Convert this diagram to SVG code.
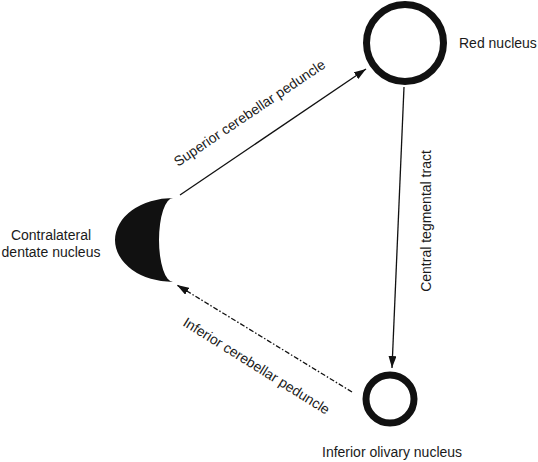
<svg xmlns="http://www.w3.org/2000/svg" width="538" height="462" viewBox="0 0 538 462">
  <style>
    text { font-family: "Liberation Sans", Arial, Helvetica, sans-serif; font-size: 14px; fill: #1a1a1a; }
    .ring { fill: none; stroke: #111; }
    .conn { fill: none; stroke: #111; stroke-width: 1.3; }
    .dash { stroke-dasharray: 5 2 1.5 2; }
  </style>
  <defs>
    <marker id="arrow" viewBox="0 0 12 8" refX="12" refY="4" markerWidth="12" markerHeight="8" markerUnits="userSpaceOnUse" orient="auto">
      <path d="M0,0 L12,4 L0,8 Z" fill="#111"/>
    </marker>
  </defs>
  <rect width="538" height="462" fill="#ffffff"/>

  <g id="red-nucleus">
    <circle class="ring" cx="405" cy="43" r="38.5" stroke-width="7"/>
    <text x="459" y="48">Red nucleus</text>
  </g>

  <g id="inferior-olivary-nucleus">
    <circle class="ring" cx="390" cy="399" r="24" stroke-width="7"/>
    <text x="322" y="457">Inferior olivary nucleus</text>
  </g>

  <g id="dentate-nucleus">
    <path d="M173,198 A58,42 0 0 0 173,282 A14,42 0 0 1 173,198 Z" fill="#111"/>
    <text x="51" y="240" text-anchor="middle">Contralateral</text>
    <text x="51" y="257" text-anchor="middle">dentate nucleus</text>
  </g>

  <g id="connectors">
    <line class="conn" x1="180" y1="195" x2="366" y2="69" marker-end="url(#arrow)"/>
    <line class="conn" x1="404" y1="87" x2="392" y2="368" marker-end="url(#arrow)"/>
    <line class="conn dash" x1="352" y1="392" x2="177" y2="285" marker-end="url(#arrow)"/>
    <text transform="translate(178,167) rotate(-34)">Superior cerebellar peduncle</text>
    <text transform="translate(182,325) rotate(32)">Inferior cerebellar peduncle</text>
    <text transform="translate(431,221) rotate(-90)" text-anchor="middle">Central tegmental tract</text>
  </g>
</svg>
